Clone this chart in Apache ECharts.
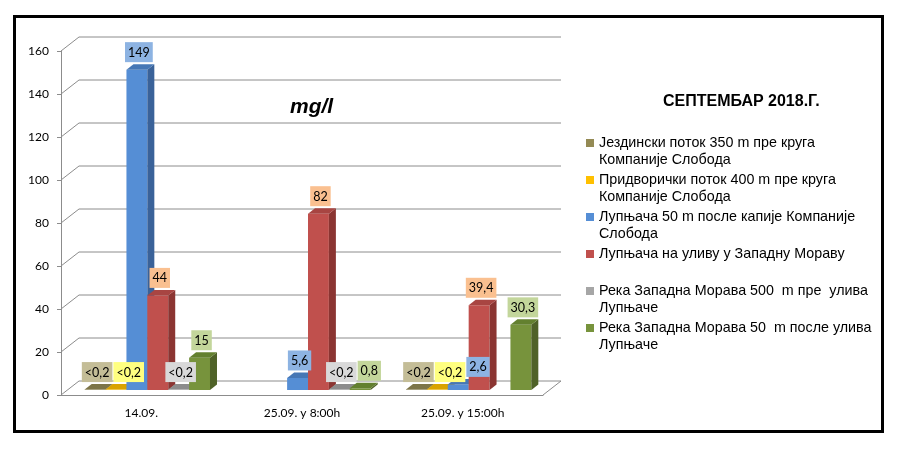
<!DOCTYPE html>
<html>
<head>
<meta charset="utf-8"/>
<title>СЕПТЕМБАР 2018.Г.</title>
<script src="https://cdn.jsdelivr.net/npm/echarts/dist/echarts.min.js"></script>
<style>
    html, body { margin: 0; padding: 0; background: #fff; }
    #main { width: 907px; height: 449px; }
</style>
</head>
<body>
<div id="main"></div>
<script>
// categories and tick values
var categories = ['14.09.', '25.09. у 8:00h', '25.09. у 15:00h'];
var yTicks = [0, 20, 40, 60, 80, 100, 120, 140, 160];

// measured values, mg/l (0.2 = below limit, shown as <0,2; null = not sampled)
var jezdinski      = [0.2, null, 0.2];
var pridvoricki    = [0.2, null, 0.2];
var lupnjacaKapija = [149, 5.6, 2.6];
var lupnjacaUliv   = [44, 82, 39.4];
var moravaPre      = [0.2, 0.2, null];
var moravaPosle    = [15, 0.8, 30.3];

var seriesNames = [
    'Јездински поток 350 m пре круга\nКомпаније Слобода',
    'Придворички поток 400 m пре круга\nКомпаније Слобода',
    'Лупњача 50 m после капије Компаније\nСлобода',
    'Лупњача на уливу у Западну Мораву',
    'Река Западна Морава 500  m пре  улива\nЛупњаче',
    'Река Западна Морава 50  m после улива\nЛупњаче'
];
var seriesValues = [jezdinski, pridvoricki, lupnjacaKapija, lupnjacaUliv, moravaPre, moravaPosle];
var belowLimit = 0.2;

// colours: front, side, top, label box
var palette = [
    { front: '#948a54', side: '#6b6339', top: '#7d7548', label: '#c4bd97' },
    { front: '#ffc000', side: '#b38600', top: '#d9a300', label: '#ffff80' },
    { front: '#558ed5', side: '#3a6299', top: '#4677b5', label: '#8db3e2' },
    { front: '#c0504d', side: '#8b3532', top: '#a84542', label: '#fac090' },
    { front: '#a6a6a6', side: '#7a7a7a', top: '#8c8c8c', label: '#d9d9d9' },
    { front: '#77933c', side: '#4f6228', top: '#63802f', label: '#c3d69b' }
];

// fake 3d geometry
var DEPTH_X = 18, DEPTH_Y = -14;     // wall depth
var SIDE_X = 7, SIDE_Y = -5.5;       // bar depth
var SHIFT_X = 6, SHIFT_Y = -5;       // bar front plane offset
var SLOT_FRAC = 0.13;                // bar width as part of the band
var GRID_COLOR = '#8c8c8c';
var LABEL_FONT = '12.5px Lato';
var LABEL_PAD = [4, 3, 3, 3];
var LABEL_H = 19;

var myChart = echarts.init(document.getElementById('main'));

var measureCtx = document.createElement('canvas').getContext('2d');
measureCtx.font = LABEL_FONT;

function formatValue(v) {
    if (v <= belowLimit) return '<' + String(belowLimit).replace('.', ',');
    return String(v).replace('.', ',');
}

// front face geometry for series s at a point
function barBox(api, s, cat, v) {
    var band = api.size([1, 0])[0];
    var base = api.coord([cat, 0]);
    var top = api.coord([cat, v]);
    var slot = band * SLOT_FRAC;
    var n = seriesValues.length;
    var x0 = base[0] - band / 2 + (band - slot * n) / 2 + s * slot + SHIFT_X;
    return { x: x0, w: slot, yBottom: base[1] + SHIFT_Y, yTop: top[1] + SHIFT_Y };
}

function makeBarRender(s) {
    var c = palette[s];
    return function (params, api) {
        var v = api.value(1);
        if (v == null || isNaN(v)) return;
        var b = barBox(api, s, api.value(0), v);
        var xr = b.x + b.w;
        return {
            type: 'group',
            children: [
                { type: 'rect', shape: { x: b.x, y: b.yTop, width: b.w, height: b.yBottom - b.yTop },
                  style: { fill: c.front } },
                { type: 'polygon', shape: { points: [[xr, b.yTop], [xr + SIDE_X, b.yTop + SIDE_Y],
                    [xr + SIDE_X, b.yBottom + SIDE_Y], [xr, b.yBottom]] },
                  style: { fill: c.side } },
                { type: 'polygon', shape: { points: [[b.x, b.yTop], [b.x + SIDE_X, b.yTop + SIDE_Y],
                    [xr + SIDE_X, b.yTop + SIDE_Y], [xr, b.yTop]] },
                  style: { fill: c.top } }
            ]
        };
    };
}

// back wall, left wall and floor lines
function renderWalls(params, api) {
    var v = api.value(1);
    var band = api.size([1, 0])[0];
    var p = api.coord([0, v]);
    var pr = api.coord([categories.length - 1, v]);
    var xl = p[0] - band / 2, xr = pr[0] + band / 2, y = p[1];
    var style = { stroke: GRID_COLOR, lineWidth: 1 };
    var children = [
        { type: 'line', shape: { x1: xl, y1: y, x2: xl + DEPTH_X, y2: y + DEPTH_Y }, style: style },
        { type: 'line', shape: { x1: xl + DEPTH_X, y1: y + DEPTH_Y, x2: xr + DEPTH_X, y2: y + DEPTH_Y }, style: style }
    ];
    if (v === 0) {
        children.push({ type: 'line', shape: { x1: xr, y1: y, x2: xr + DEPTH_X, y2: y + DEPTH_Y }, style: style });
    }
    return { type: 'group', children: children };
}

// label boxes of one category, pushed right where they would overlap
function categoryLabels(api, cat) {
    var list = [];
    seriesValues.forEach(function (vals, s) {
        var v = vals[cat];
        if (v == null) return;
        var b = barBox(api, s, cat, v);
        var text = formatValue(v);
        var w = measureCtx.measureText(text).width + LABEL_PAD[1] + LABEL_PAD[3];
        var bottom = b.yTop + SIDE_Y - 2;
        list.push({ s: s, text: text, cx: b.x + b.w / 2 + 2, w: w, bottom: bottom, top: bottom - LABEL_H });
    });
    for (var i = 1; i < list.length; i++) {
        var prev = list[i - 1], cur = list[i];
        var vOverlap = prev.bottom > cur.top && cur.bottom > prev.top;
        var hOverlap = (prev.cx + prev.w / 2 + 1) - (cur.cx - cur.w / 2);
        if (vOverlap && hOverlap > 0) cur.cx += hOverlap;
    }
    return list;
}

function renderLabel(params, api) {
    var cat = api.value(0), s = api.value(2);
    var item = categoryLabels(api, cat).filter(function (d) { return d.s === s; })[0];
    return {
        type: 'text',
        style: {
            text: item.text,
            x: item.cx,
            y: item.bottom,
            align: 'center',
            verticalAlign: 'bottom',
            font: LABEL_FONT,
            fill: '#000',
            backgroundColor: palette[s].label,
            padding: LABEL_PAD
        }
    };
}

var series = [{
    type: 'custom',
    name: 'walls',
    silent: true,
    z: 1,
    renderItem: renderWalls,
    data: yTicks.map(function (t) { return [0, t]; })
}];

seriesValues.forEach(function (vals, s) {
    series.push({
        type: 'custom',
        name: seriesNames[s],
        z: 2,
        itemStyle: { color: palette[s].front },
        renderItem: makeBarRender(s),
        data: vals.map(function (v, i) { return [i, v]; })
    });
});

var labelData = [];
seriesValues.forEach(function (vals, s) {
    vals.forEach(function (v, i) {
        if (v != null) labelData.push([i, v, s]);
    });
});
series.push({
    type: 'custom',
    name: 'labels',
    silent: true,
    z: 10,
    renderItem: renderLabel,
    data: labelData
});

var option = {
    animation: false,
    backgroundColor: '#fff',
    color: palette.map(function (c) { return c.front; }),
    title: [
        { text: 'mg/l', left: 290, top: 97, padding: 0,
          textStyle: { fontFamily: 'Liberation Sans', fontSize: 21, fontWeight: 'bold', fontStyle: 'italic', color: '#000' } },
        { text: 'СЕПТЕМБАР 2018.Г.', left: 663, top: 94, padding: 0,
          textStyle: { fontFamily: 'Liberation Sans', fontSize: 16, fontWeight: 'bold', color: '#000' } }
    ],
    legend: {
        data: seriesNames,
        orient: 'vertical',
        left: 586,
        top: 134.5,
        padding: 0,
        itemGap: 3,
        itemWidth: 8,
        itemHeight: 25,
        // square at the top of the item so it sits on the first text line
        icon: 'path://M0,0h8v8h-8z M8,25h0.01v0.01h-0.01z',
        selectedMode: false,
        formatter: function (name) {
            return name.indexOf('\n') < 0 ? name + '\n ' : name;
        },
        textStyle: {
            fontFamily: 'Liberation Sans',
            fontSize: 14.3,
            lineHeight: 17,
            color: '#000'
        }
    },
    grid: { left: 61, right: 364, top: 51, bottom: 54 },
    xAxis: {
        type: 'category',
        data: categories,
        axisLine: { lineStyle: { color: GRID_COLOR } },
        axisTick: { length: 6, lineStyle: { color: GRID_COLOR } },
        axisLabel: { fontFamily: 'Lato', fontSize: 12, color: '#000', margin: 12 }
    },
    yAxis: {
        type: 'value',
        min: 0,
        max: 160,
        interval: 20,
        splitLine: { show: false },
        axisLine: { show: true, lineStyle: { color: GRID_COLOR } },
        axisTick: { show: true, length: 4, lineStyle: { color: GRID_COLOR } },
        axisLabel: { fontFamily: 'Lato', fontSize: 12, color: '#000', margin: 12 }
    },
    graphic: [{
        type: 'rect',
        silent: true,
        z: 100,
        shape: { x: 14.5, y: 16.5, width: 868, height: 415 },
        style: { fill: 'none', stroke: '#000', lineWidth: 3 }
    }],
    series: series
};

myChart.setOption(option);
</script>
</body>
</html>
